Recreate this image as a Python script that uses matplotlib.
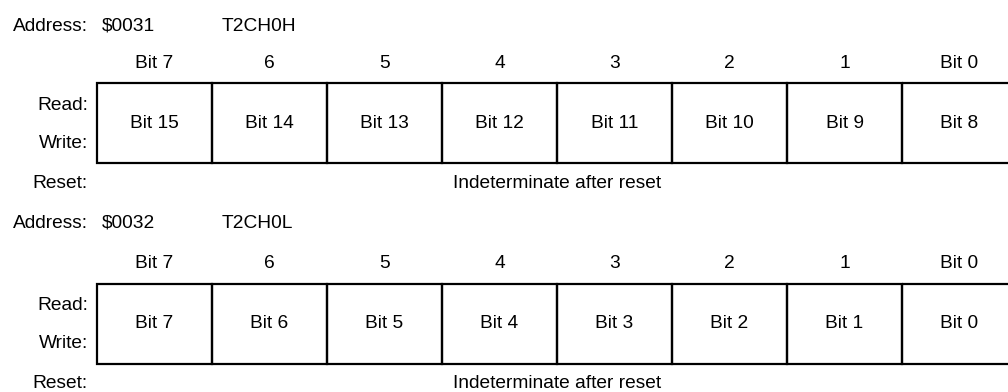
import matplotlib.pyplot as plt
from matplotlib.patches import Rectangle

plt.rcParams['font.family'] = ['Liberation Sans', 'DejaVu Sans']

# register data
addresses = ["$0031", "$0032"]
reg_names = ["T2CH0H", "T2CH0L"]
col_headers = ["Bit 7", "6", "5", "4", "3", "2", "1", "Bit 0"]
cells_high = ["Bit 15", "Bit 14", "Bit 13", "Bit 12", "Bit 11", "Bit 10", "Bit 9", "Bit 8"]
cells_low = ["Bit 7", "Bit 6", "Bit 5", "Bit 4", "Bit 3", "Bit 2", "Bit 1", "Bit 0"]
reset_text = "Indeterminate after reset"

W, H = 1008, 392
X0 = 97        # left edge of register box
CW = 115       # cell width
FS = 13.8


def draw_register(ax, addr_y, top, address, name, cells):
    """Draw one register block; top is the upper edge of the box."""
    ax.text(13, addr_y, "Address:", ha='left', va='center', fontsize=FS)
    ax.text(102, addr_y, address, ha='left', va='center', fontsize=FS)
    ax.text(222, addr_y, name, ha='left', va='center', fontsize=FS)

    bot = top + 80
    for i, (hdr, cell) in enumerate(zip(col_headers, cells)):
        xc = X0 + CW * (i + 0.5)
        ax.text(xc, top - 20, hdr, ha='center', va='center', fontsize=FS)
        ax.add_patch(Rectangle((X0 + CW * i, top), CW, bot - top,
                               fill=False, lw=1.6, ec='black'))
        ax.text(xc, (top + bot) / 2, cell, ha='center', va='center', fontsize=FS)

    ax.text(88, top + 22, "Read:", ha='right', va='center', fontsize=FS)
    ax.text(88, top + 60, "Write:", ha='right', va='center', fontsize=FS)
    ax.text(88, bot + 20, "Reset:", ha='right', va='center', fontsize=FS)
    ax.text(X0 + CW * 4, bot + 20, reset_text, ha='center', va='center', fontsize=FS)


fig = plt.figure(figsize=(W / 100, H / 100), dpi=100)
ax = fig.add_axes([0, 0, 1, 1])
ax.set_xlim(0, W)
ax.set_ylim(H, 0)
ax.axis('off')

draw_register(ax, 26, 83, addresses[0], reg_names[0], cells_high)
draw_register(ax, 223, 284, addresses[1], reg_names[1], cells_low)

fig.savefig("out.png", dpi=100)
